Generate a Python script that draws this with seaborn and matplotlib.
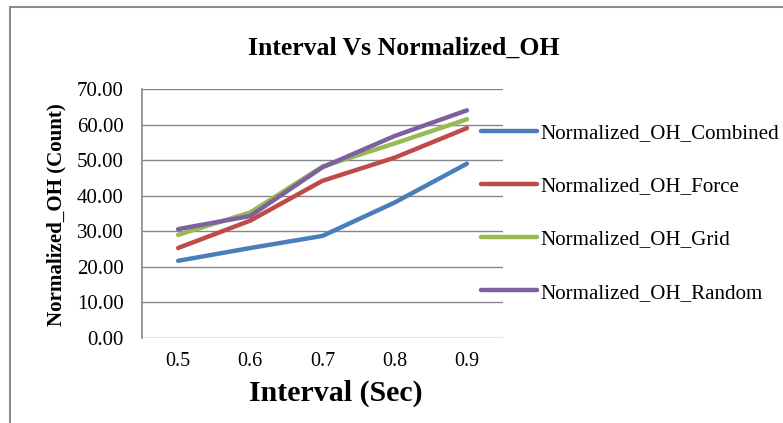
import pandas as pd
import matplotlib
matplotlib.use("Agg")
import matplotlib.pyplot as plt
import seaborn as sns
from matplotlib.patches import Rectangle

intervals = ["0.5", "0.6", "0.7", "0.8", "0.9"]
combined = [21.7, 25.3, 28.7, 38.1, 49.0]
force = [25.3, 33.0, 44.2, 50.7, 59.0]
grid = [29.0, 35.3, 48.2, 54.7, 61.5]
random_ = [30.6, 34.3, 48.0, 56.8, 64.0]
series_names = ["Normalized_OH_Combined", "Normalized_OH_Force",
                "Normalized_OH_Grid", "Normalized_OH_Random"]
colors = ["#4A7EBB", "#BE4B48", "#98B954", "#7D60A0"]

df = pd.DataFrame({"Interval": intervals * 4,
                   "Value": combined + force + grid + random_,
                   "Series": [n for n in series_names for _ in intervals]})

sns.set_style("white")
plt.rcParams['font.family'] = ['Liberation Serif', 'DejaVu Serif']
plt.rcParams['text.color'] = 'black'

fig = plt.figure(figsize=(7.83, 4.23), dpi=100)
# plot area: x 142..503 px, y 89..338 px
ax = fig.add_axes([142 / 783, 1 - 338 / 423, 361 / 783, 249 / 423])

sns.lineplot(data=df, x="Interval", y="Value", hue="Series",
             palette=colors, linewidth=3.2, ax=ax, legend=False,
             solid_capstyle='round')

ax.set_xlim(-0.5, 4.5)
ax.set_ylim(0, 70)
ax.set_yticks(range(0, 71, 10))
ax.set_yticklabels([f"{v:.2f}" for v in range(0, 71, 10)])
ax.set_xlabel("")
ax.set_ylabel("")
ax.grid(axis='y', color='#868686', linewidth=1)
ax.grid(axis='x', visible=False)
ax.set_axisbelow(True)
for s in ['top', 'right', 'bottom']:
    ax.spines[s].set_visible(False)
ax.spines['left'].set_color('#868686')
ax.spines['left'].set_linewidth(1.2)
ax.tick_params(axis='y', length=0, pad=13, labelsize=15, colors='black')
ax.tick_params(axis='x', length=0, pad=10, labelsize=14.5, colors='black')

handles = [plt.Line2D([], [], color=c, linewidth=3.2, solid_capstyle='round') for c in colors]
fig.legend(handles, series_names, loc='center left',
           bbox_to_anchor=(481 / 783, 1 - 213 / 423), frameon=False, fontsize=15.1,
           borderpad=0, borderaxespad=0, handlelength=2.65,
           handletextpad=0.2, labelspacing=1.6, labelcolor='black')

fig.text(515 / 1000, 1 - 48 / 423, "Interval Vs Normalized_OH", ha='center', va='center',
         fontsize=18.5, fontweight='bold')
fig.text(56 / 783, 1 - 215 / 423, "Normalized_OH (Count)", ha='center', va='center',
         rotation=90, fontsize=15.1, fontweight='bold')
fig.text(336 / 783, 1 - 393 / 423, "Interval (Sec)", ha='center', va='center',
         fontsize=21.5, fontweight='bold')

# outer chart border (clipped on the right and bottom)
fig.patches.append(Rectangle((10 / 783, -0.2), 1.2, 1.2 - 7 / 423,
                             transform=fig.transFigure, fill=False,
                             edgecolor='#8c8c8c', linewidth=1.5))

fig.savefig("out.png", dpi=100)
